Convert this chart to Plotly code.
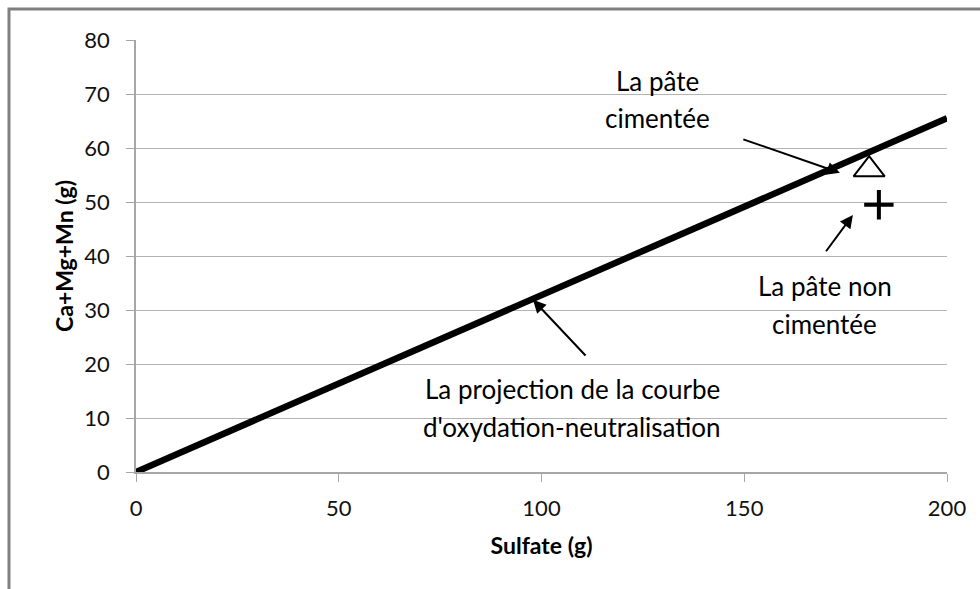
import plotly.graph_objects as go

# Oxidation-neutralisation trend line
sulfate_line = [0, 200]
metals_line = [0, 65.5]

# Measured pastes
cemented_sulfate = [180.8]
cemented_metals = [56.0]
uncemented_sulfate = [183.2]
uncemented_metals = [49.5]

x_ticks = [0, 50, 100, 150, 200]
y_ticks = [0, 10, 20, 30, 40, 50, 60, 70, 80]

FONT = "Lato"

fig = go.Figure()

fig.add_trace(go.Scatter(
    x=sulfate_line, y=metals_line, mode="lines",
    line=dict(color="black", width=6.5), showlegend=False, hoverinfo="skip"))

fig.add_trace(go.Scatter(
    x=cemented_sulfate, y=cemented_metals, mode="markers",
    marker=dict(symbol="triangle-up-open", size=27, color="black",
                line=dict(color="black", width=2)),
    showlegend=False))

fig.add_trace(go.Scatter(
    x=uncemented_sulfate, y=uncemented_metals, mode="markers",
    marker=dict(symbol="cross-thin", size=21, color="black",
                line=dict(color="black", width=4)),
    showlegend=False))

ann_font = dict(family=FONT, size=26, color="black")

def label(lines, xc, ytop, step):
    for i, t in enumerate(lines):
        fig.add_annotation(x=xc, y=ytop - i * step, xref="x", yref="y",
                           text=t, showarrow=False, font=ann_font,
                           xanchor="center", yanchor="middle")

label(["La pâte", "cimentée"], 128.5, 72.4, 6.9)
label(["La pâte non", "cimentée"], 169.9, 34.4, 6.9)
label(["La projection de la courbe", "d'oxydation-neutralisation"], 107.6, 15.3, 6.9)

arrows = [
    # (head_x, head_y, tail_x, tail_y)
    (173.6, 55.4, 149.4, 61.7),
    (176.8, 47.6, 169.9, 40.6),
    (97.9, 31.9, 111.2, 21.3),
]
for hx, hy, tx, ty in arrows:
    fig.add_annotation(x=hx, y=hy, ax=tx, ay=ty, xref="x", yref="y",
                       axref="x", ayref="y", text="", showarrow=True,
                       arrowhead=2, arrowsize=1.3, arrowwidth=2,
                       arrowcolor="black")

# Outer frame of the chart area
fig.add_shape(type="rect", xref="paper", yref="paper",
              x0=-0.1566, y0=-0.5, x1=1.3, y1=1.0718,
              line=dict(color="#808080", width=3), layer="below")

axis_common = dict(
    showline=True, linecolor="#a6a6a6", linewidth=1.5,
    gridcolor="#b3b3b3", gridwidth=1.3, zeroline=False,
    ticks="outside", ticklen=8, tickcolor="#a6a6a6", tickwidth=1.3,
    tickfont=dict(family=FONT, size=22, color="#111111"),
)

fig.update_xaxes(range=[0, 200], tickvals=x_ticks, showgrid=False,
                 ticklabelstandoff=8,
                 title=dict(text="<b>Sulfate (g)</b>",
                            font=dict(family=FONT, size=23, color="black"),
                            standoff=18),
                 **axis_common)
fig.update_yaxes(range=[0, 80], tickvals=y_ticks, showgrid=True,
                 ticklabelstandoff=12,
                 title=dict(text="<b>Ca+Mg+Mn (g)</b>",
                            font=dict(family=FONT, size=23, color="black"),
                            standoff=4),
                 **axis_common)

fig.update_layout(
    width=980, height=589,
    margin=dict(l=136, r=33, t=40, b=117),
    plot_bgcolor="white", paper_bgcolor="white",
    showlegend=False,
)

fig.write_html("out.html")
